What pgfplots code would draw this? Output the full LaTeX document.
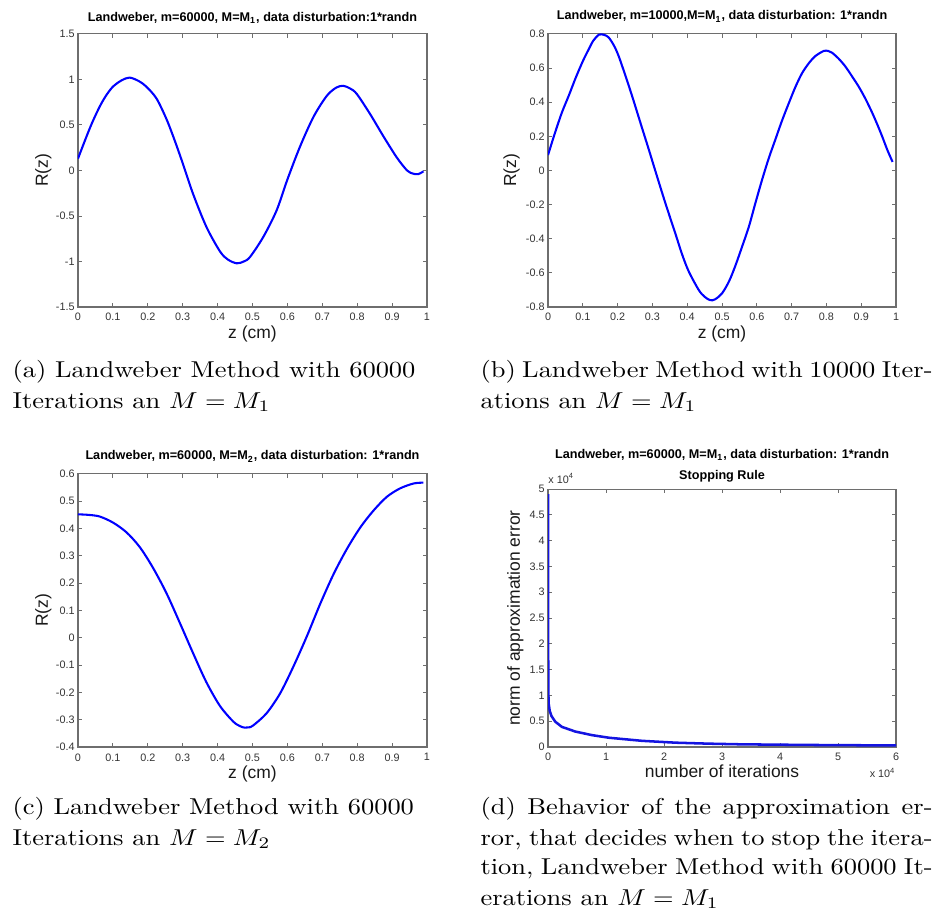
\documentclass[border=0pt]{standalone}
\usepackage{fontspec}
\usepackage{pgfplots}
\pgfplotsset{compat=1.18}
\newfontfamily\arialf{Liberation Sans}
\definecolor{mblue}{RGB}{20,20,225}
\definecolor{axgray}{RGB}{110,110,110}

% one px of the reference = 0.435pt
\pgfplotsset{
  matfig/.style={
    scale only axis,
    anchor=south west,
    clip mode=individual,
    every axis title shift=0pt,
    axis line style={axgray, line width=0.5pt},
    tick style={axgray, line width=0.4pt},
    major tick length=1.6pt,
    tick align=inside,
    tick label style={font=\arialf\fontsize{4.7}{5.6}\selectfont, text=black!80, inner sep=0pt},
    xticklabel style={anchor=north, yshift=-2.6pt},
    yticklabel style={anchor=east, xshift=-1.3pt},
    label style={font=\arialf\fontsize{7.6}{9}\selectfont, inner sep=0pt, text=black!90},
    xlabel style={anchor=base},
    ylabel style={anchor=south},
    title style={font=\arialf\bfseries\fontsize{5.5}{6.6}\selectfont, anchor=base, inner sep=0pt},
    every axis plot/.append style={mblue, line width=0.9pt, no marks, smooth, tension=0.5},
  },
  ztick/.style={
    xmin=0, xmax=1,
    xtick={0,0.1,0.2,0.3,0.4,0.5,0.6,0.7,0.8,0.9,1},
    xticklabels={0,0.1,0.2,0.3,0.4,0.5,0.6,0.7,0.8,0.9,1},
  },
}

\newcommand{\capline}[2]{\node[anchor=base west, inner sep=0pt, xscale=1.15, transform shape,
  font=\fontsize{10}{12}\selectfont] at (#1) {#2};}

\begin{document}
\begin{tikzpicture}
\path[use as bounding box] (0,0) rectangle (412.815pt,-399.33pt);

% (a)
\begin{axis}[matfig, ztick,
  at={(33.93pt,-133.545pt)}, width=151.8pt, height=118.8pt,
  ymin=-1.5, ymax=1.5,
  ytick={-1.5,-1,-0.5,0,0.5,1,1.5},
  yticklabels={-1.5,-1,-0.5,0,0.5,1,1.5},
  title={Landweber, m=60000, M=M\textsubscript{1}, data disturbation:1*randn},
  title style={at={(rel axis cs:0.5,1.045)}},
  xlabel={z (cm)}, xlabel style={at={(rel axis cs:0.5,-0.117)}},
  ylabel={R(z)}, ylabel style={at={(rel axis cs:-0.0745,0.5)}},
]
\addplot coordinates {
(0.000,0.13) (0.020,0.33) (0.040,0.52) (0.062,0.70) (0.080,0.82) (0.100,0.92)
(0.125,0.99) (0.148,1.02) (0.175,0.98) (0.196,0.92) (0.225,0.79) (0.254,0.56)
(0.278,0.32) (0.300,0.08) (0.330,-0.26) (0.368,-0.62) (0.407,-0.89) (0.430,-0.98)
(0.455,-1.02) (0.475,-1.00) (0.493,-0.95) (0.531,-0.73) (0.569,-0.44) (0.600,-0.10)
(0.636,0.26) (0.675,0.59) (0.713,0.82) (0.740,0.91) (0.760,0.93) (0.780,0.90)
(0.799,0.84) (0.837,0.62) (0.876,0.37) (0.914,0.14) (0.943,0.00) (0.960,-0.035)
(0.975,-0.04) (0.990,-0.01)
};
\end{axis}

% (b)
\begin{axis}[matfig, ztick,
  at={(238.38pt,-133.545pt)}, width=151.4pt, height=118.8pt,
  ymin=-0.8, ymax=0.8,
  ytick={-0.8,-0.6,-0.4,-0.2,0,0.2,0.4,0.6,0.8},
  yticklabels={-0.8,-0.6,-0.4,-0.2,0,0.2,0.4,0.6,0.8},
  title={Landweber, m=10000,M=M\textsubscript{1}, data disturbation: 1*randn},
  title style={at={(rel axis cs:0.5,1.051)}},
  xlabel={z (cm)}, xlabel style={at={(rel axis cs:0.5,-0.117)}},
  ylabel={R(z)}, ylabel style={at={(rel axis cs:-0.080,0.5)}},
]
\addplot coordinates {
(0.000,0.09) (0.020,0.22) (0.040,0.34) (0.060,0.44) (0.079,0.54) (0.100,0.64)
(0.117,0.71) (0.130,0.76) (0.146,0.795) (0.160,0.795) (0.174,0.78) (0.190,0.73)
(0.203,0.67) (0.220,0.57) (0.241,0.44) (0.270,0.25) (0.290,0.12) (0.308,0.00)
(0.337,-0.19) (0.366,-0.37) (0.385,-0.49) (0.404,-0.59) (0.433,-0.70) (0.450,-0.74)
(0.466,-0.76) (0.480,-0.755) (0.500,-0.72) (0.520,-0.65) (0.538,-0.56) (0.557,-0.45)
(0.577,-0.33) (0.596,-0.19) (0.615,-0.055) (0.634,0.07) (0.653,0.18) (0.672,0.29)
(0.692,0.395) (0.711,0.49) (0.730,0.57) (0.750,0.63) (0.768,0.67) (0.792,0.70)
(0.805,0.70) (0.816,0.69) (0.835,0.655) (0.854,0.61) (0.874,0.55) (0.893,0.49)
(0.912,0.42) (0.931,0.34) (0.946,0.27) (0.960,0.20) (0.975,0.12) (0.990,0.05)
};
\end{axis}

% (c)
\begin{axis}[matfig, ztick,
  at={(33.93pt,-324.945pt)}, width=151.8pt, height=118.8pt,
  ymin=-0.4, ymax=0.6,
  ytick={-0.4,-0.3,-0.2,-0.1,0,0.1,0.2,0.3,0.4,0.5,0.6},
  yticklabels={-0.4,-0.3,-0.2,-0.1,0,0.1,0.2,0.3,0.4,0.5,0.6},
  title={Landweber, m=60000, M=M\textsubscript{2}, data disturbation: 1*randn},
  title style={at={(rel axis cs:0.5,1.051)}},
  xlabel={z (cm)}, xlabel style={at={(rel axis cs:0.5,-0.117)}},
  ylabel={R(z)}, ylabel style={at={(rel axis cs:-0.0745,0.5)}},
]
\addplot coordinates {
(0.000,0.452) (0.030,0.450) (0.062,0.444) (0.100,0.422) (0.139,0.386) (0.177,0.332)
(0.215,0.256) (0.254,0.162) (0.292,0.054) (0.330,-0.057) (0.368,-0.163) (0.407,-0.250)
(0.445,-0.307) (0.465,-0.324) (0.478,-0.329) (0.490,-0.328) (0.502,-0.321) (0.540,-0.277)
(0.579,-0.204) (0.617,-0.106) (0.656,0.006) (0.694,0.124) (0.732,0.232) (0.770,0.324)
(0.809,0.404) (0.847,0.466) (0.885,0.516) (0.923,0.547) (0.962,0.565) (0.990,0.568)
};
\end{axis}

% (d)
\begin{axis}[matfig,
  at={(238.38pt,-324.945pt)}, width=151.4pt, height=112.2pt,
  xmin=0, xmax=6, xtick={0,1,2,3,4,5,6}, xticklabels={0,1,2,3,4,5,6},
  ymin=0, ymax=5,
  ytick={0,0.5,1,1.5,2,2.5,3,3.5,4,4.5,5},
  yticklabels={0,0.5,1,1.5,2,2.5,3,3.5,4,4.5,5},
  title={Landweber, m=60000, M=M\textsubscript{1}, data disturbation: 1*randn},
  title style={at={(rel axis cs:0.5,1.120)}},
  xlabel={number of iterations}, xlabel style={at={(rel axis cs:0.5,-0.120)}},
  ylabel={norm of approximation error}, ylabel style={at={(rel axis cs:-0.069,0.5)}},
]
\addplot[sharp plot, line width=1.1pt] coordinates {
(0.000,4.90) (0.002,2.50) (0.005,1.20) (0.010,0.85) (0.030,0.70) (0.060,0.60)
(0.126,0.49) (0.240,0.39) (0.470,0.30) (0.760,0.23) (1.050,0.18) (1.620,0.12)
(2.200,0.084) (2.770,0.065) (3.340,0.052) (4.500,0.040) (6.000,0.030)
};
\node[font=\arialf\bfseries\fontsize{5.5}{6.6}\selectfont, anchor=base, inner sep=0pt]
  at (rel axis cs:0.5,1.039) {Stopping Rule};
\node[font=\arialf\fontsize{4.7}{5.6}\selectfont, text=black!80, anchor=base west, inner sep=0pt]
  at (rel axis cs:0,1.023) {x 10\textsuperscript{4}};
\node[font=\arialf\fontsize{4.7}{5.6}\selectfont, text=black!80, anchor=base east, inner sep=0pt]
  at (rel axis cs:1,-0.120) {x 10\textsuperscript{4}};
\end{axis}

% captions
\capline{5.22pt,-164.0pt}{(a) Landweber Method with 60000}
\capline{5.22pt,-177.5pt}{Iterations an $M=M_1$}
\capline{208.8pt,-164.0pt}{\hbox to 171pt{(b) Landweber Method with 10000 Iter-}}
\capline{208.8pt,-177.5pt}{ations an $M=M_1$}
\capline{5.22pt,-354.5pt}{(c) Landweber Method with 60000}
\capline{5.22pt,-367.6pt}{Iterations an $M=M_2$}
\capline{208.8pt,-354.5pt}{\hbox to 171pt{(d) Behavior of the approximation er-}}
\capline{208.8pt,-367.6pt}{\hbox to 171pt{ror, that decides when to stop the itera-}}
\capline{208.8pt,-380.6pt}{\hbox to 171pt{tion, Landweber Method with 60000 It-}}
\capline{208.8pt,-393.7pt}{erations an $M=M_1$}
\end{tikzpicture}
\end{document}
